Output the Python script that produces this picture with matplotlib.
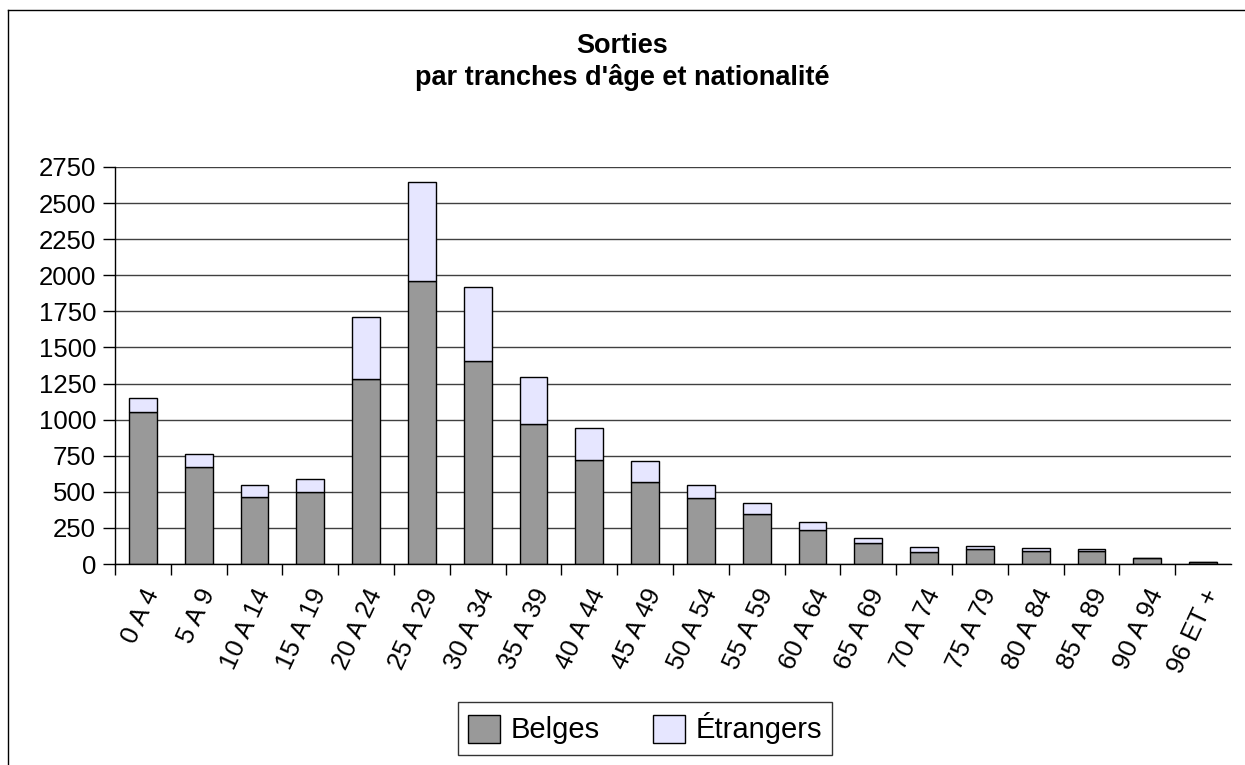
import matplotlib
matplotlib.use("Agg")
import matplotlib.pyplot as plt
import matplotlib.transforms as mtransforms
import numpy as np
from matplotlib.lines import Line2D
from matplotlib.patches import Patch

plt.rcParams['font.family'] = ['Liberation Sans', 'DejaVu Sans']

categories = ["0 A 4", "5 A 9", "10 A 14", "15 A 19", "20 A 24", "25 A 29",
              "30 A 34", "35 A 39", "40 A 44", "45 A 49", "50 A 54", "55 A 59",
              "60 A 64", "65 A 69", "70 A 74", "75 A 79", "80 A 84", "85 A 89",
              "90 A 94", "96 ET +"]
belges = [1050, 672, 464, 496, 1281, 1960, 1408, 972, 719, 566, 455, 349,
          233, 143, 82, 105, 93, 91, 40, 14]
etrangers = [100, 92, 86, 95, 430, 686, 511, 323, 226, 150, 93, 74,
             58, 35, 39, 19, 17, 12, 2, 1]
yticks = [0, 250, 500, 750, 1000, 1250, 1500, 1750, 2000, 2250, 2500, 2750]
title = "Sorties\npar tranches d'âge et nationalité"
series_names = ["Belges", "Étrangers"]
colors = ["#999999", "#e6e6ff"]

W, H = 1245, 765
fig = plt.figure(figsize=(W / 100, H / 100), dpi=100)
ax = fig.add_axes([115 / W, 1 - 564 / H, (1231 - 115) / W, (564 - 167) / H])

x = np.arange(len(categories))
ax.bar(x, belges, width=0.5, color=colors[0], edgecolor="black", linewidth=1, zorder=3)
ax.bar(x, etrangers, width=0.5, bottom=belges, color=colors[1], edgecolor="black",
       linewidth=1, zorder=3)

ax.set_xlim(-0.5, len(categories) - 0.5)
ax.set_ylim(0, 2750)
ax.set_yticks(yticks)
ax.set_yticklabels([str(v) for v in yticks], fontsize=18.5)
ax.yaxis.grid(True, color="#404040", linewidth=1, zorder=0)
ax.tick_params(axis="y", direction="out", length=8.5, width=1, pad=5)

ax.set_xticks(x)
ax.set_xticklabels(categories, fontsize=18.5, rotation=65, ha="right", va="center",
                   rotation_mode="anchor")
ax.tick_params(axis="x", which="major", length=0, pad=19)
ax.set_xticks(np.arange(-0.5, len(categories) - 1, 1.0), minor=True)
ax.tick_params(axis="x", which="minor", direction="out", length=8, width=1)
offset = mtransforms.ScaledTranslation(10 / 100, 0, fig.dpi_scale_trans)
for lbl in ax.get_xticklabels():
    lbl.set_transform(lbl.get_transform() + offset)

for s in ["top", "right"]:
    ax.spines[s].set_visible(False)
for s in ["left", "bottom"]:
    ax.spines[s].set_linewidth(1)
    ax.spines[s].set_zorder(4)

fig.text(0.5, 1 - 33 / H, title, ha="center", va="top", fontsize=19.5,
         fontweight="bold", linespacing=1.22)

handles = [Patch(facecolor=c, edgecolor="black", linewidth=1) for c in colors]
fig.legend(handles, series_names, loc="center", bbox_to_anchor=(645 / W, 1 - 728.5 / H),
           ncol=2, fontsize=21, frameon=True, fancybox=False, edgecolor="black",
           handlelength=1.1, handleheight=1.1, handletextpad=0.35,
           columnspacing=1.85, borderpad=0.35)

fig.add_artist(Line2D([8 / W, 8 / W], [0, 1 - 10 / H], color="black", linewidth=1,
                      transform=fig.transFigure))
fig.add_artist(Line2D([8 / W, 1], [1 - 10 / H, 1 - 10 / H], color="black", linewidth=1,
                      transform=fig.transFigure))

fig.savefig("out.png", dpi=100, facecolor="white")
